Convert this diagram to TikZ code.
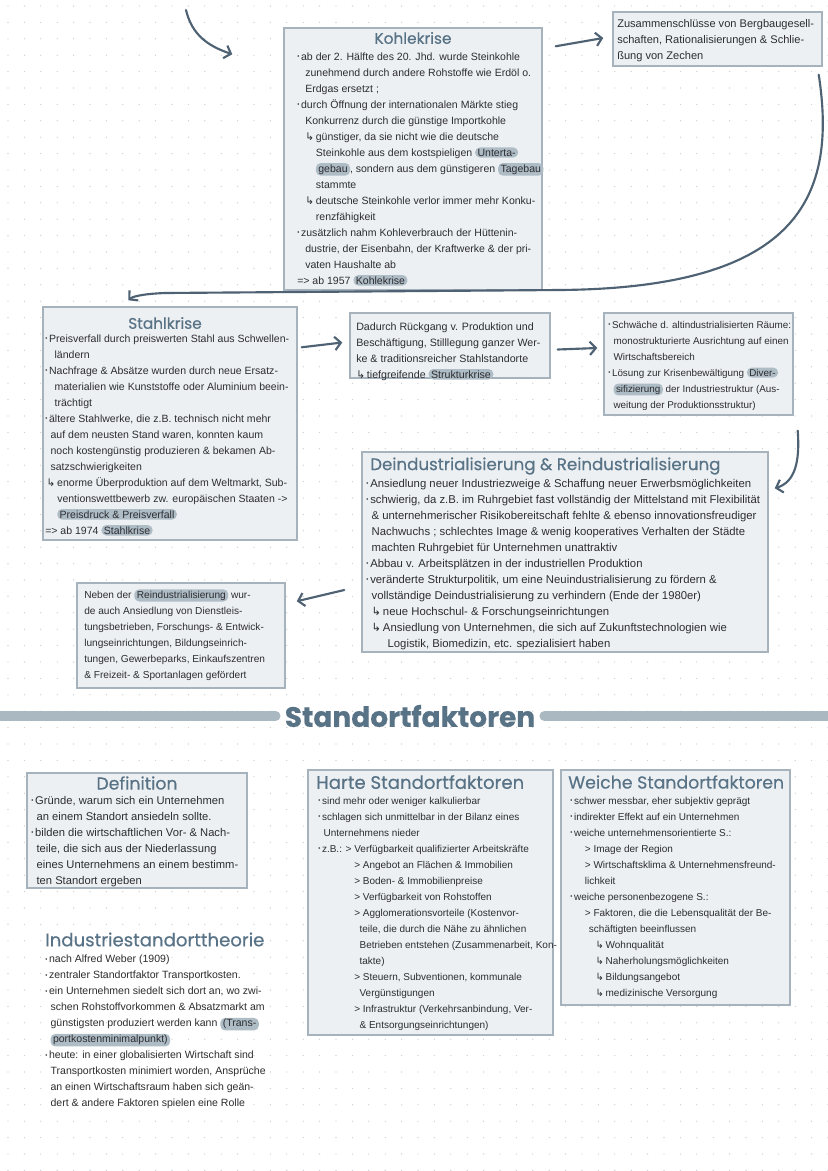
\documentclass[tikz,border=0pt]{standalone}
\usepackage{fontspec}
\setmainfont{Liberation Sans}
\newfontfamily\headfont[FakeBold=0.4]{Poppins}
\newfontfamily\symfont{DejaVu Sans}
\usetikzlibrary{arrows.meta,fit}
\definecolor{ink}{RGB}{45,45,48}
\definecolor{slate}{RGB}{88,114,134}
\definecolor{arrc}{RGB}{78,98,115}
\definecolor{boxfill}{RGB}{237,240,242}
\definecolor{boxline}{RGB}{166,178,188}
\definecolor{hlc}{RGB}{174,188,198}
\definecolor{barc}{RGB}{170,184,194}
\definecolor{dotc}{RGB}{200,204,208}
\tikzset{
  box/.style={rectangle,fill=boxfill,draw=boxline,line width=1.1pt,inner sep=0pt},
  head/.style={font=\headfont\fontsize{#1}{14}\selectfont,text=slate,inner sep=0pt},
  head/.default=11.5,
  body/.style={anchor=north west,align=left,inner sep=0pt,text=ink,
    font=\fontsize{#1}{12}\selectfont},
  body/.default=7.5,
  hlbox/.style={fill=hlc,rounded corners=3.5pt,inner xsep=1.8pt,inner ysep=1pt,
    anchor=base,text=ink},
  arr/.style={-{Straight Barb[length=4.5pt,width=10pt]},line width=1.6pt,arrc,line cap=round},
  bar/.style={line width=7.5pt,barc,line cap=round}
}
\newcommand{\hl}[1]{\tikz[baseline=(hl.base)]\node[hlbox](hl){#1};}
\newcommand{\bl}{\raisebox{1.4pt}{\fontsize{4.5}{5}\selectfont•}\,}
\newcommand{\hook}{{\symfont ↳}\,}

\begin{document}
\begin{tikzpicture}[x=0.75pt,y=-0.75pt]
\useasboundingbox (0,0) rectangle (828,1171);
\fill[white] (0,0) rectangle (828,1171);
% dotted paper
\foreach \i in {0,...,50} {
  \foreach \j in {0,...,71} {
    \fill[dotc] (8+16.4*\i,6+16.4*\j) circle (0.5pt);
  }
}
% ---------- Kohlekrise ----------
\node[box,fit={(284,28) (542,290)}] (kohle) {};
\node[head] (kohleH) at (413,38) {Kohlekrise};
\node[body=7.9] (kohleT) at (297,48.6) {\strut\bl ab der 2. Hälfte des 20. Jhd. wurde Steinkohle\\
\hspace*{6pt}zunehmend durch andere Rohstoffe wie Erdöl o.\\
\hspace*{6pt}Erdgas ersetzt ;\\
\bl durch Öffnung der internationalen Märkte stieg\\
\hspace*{6pt}Konkurrenz durch die günstige Importkohle\\
\hspace*{6pt}\hook günstiger, da sie nicht wie die deutsche\\
\hspace*{14pt}Steinkohle aus dem kostspieligen \hl{Unterta-}\\
\hspace*{14pt}\hl{gebau}, sondern aus dem günstigeren \hl{Tagebau}\\
\hspace*{14pt}stammte\\
\hspace*{6pt}\hook deutsche Steinkohle verlor immer mehr Konku-\\
\hspace*{14pt}renzfähigkeit\\
\bl zusätzlich nahm Kohleverbrauch der Hüttenin-\\
\hspace*{6pt}dustrie, der Eisenbahn, der Kraftwerke \& der pri-\\
\hspace*{6pt}vaten Haushalte ab\\
=> ab 1957 \hl{Kohlekrise}};
% ---------- Zechen ----------
\node[box,fit={(613,12) (822,66)}] (zus) {};
\node[body=8.3] (zusT) at (617,15.6) {\strut Zusammenschlüsse von Bergbaugesell-\\
schaften, Rationalisierungen \& Schlie-\\
ßung von Zechen};
% ---------- Stahlkrise ----------
\node[box,fit={(43,307) (297,540)}] (stahl) {};
\node[head] (stahlH) at (165,323) {Stahlkrise};
\node[body=7.9] (stahlT) at (45,330.6) {\strut\bl Preisverfall durch preiswerten Stahl aus Schwellen-\\
\hspace*{7pt}ländern\\
\bl Nachfrage \& Absätze wurden durch neue Ersatz-\\
\hspace*{7pt}materialien wie Kunststoffe oder Aluminium beein-\\
\hspace*{7pt}trächtigt\\
\bl ältere Stahlwerke, die z.B. technisch nicht mehr\\
\hspace*{4pt}auf dem neusten Stand waren, konnten kaum\\
\hspace*{4pt}noch kostengünstig produzieren \& bekamen Ab-\\
\hspace*{4pt}satzschwierigkeiten\\
\hspace*{1pt}\hook enorme Überproduktion auf dem Weltmarkt, Sub-\\
\hspace*{9pt}ventionswettbewerb zw. europäischen Staaten ->\\
\hspace*{9pt}\hl{Preisdruck \& Preisverfall}\\
=> ab 1974 \hl{Stahlkrise}};
% ---------- Strukturkrise ----------
\node[box,fit={(350,313) (550,378)}] (dad) {};
\node[body=8] (dadT) at (356,318.6) {\strut Dadurch Rückgang v. Produktion und\\
Beschäftigung, Stilllegung ganzer Wer-\\
ke \& traditionsreicher Stahlstandorte\\
\hook tiefgreifende \hl{Strukturkrise}};
% ---------- Diversifizierung ----------
\node[box,fit={(604,313) (793,415)}] (div) {};
\node[body=7.4] (divT) at (608,316.6) {\strut\bl Schwäche d. altindustrialisierten Räume:\\
\hspace*{4pt}monostrukturierte Ausrichtung auf einen\\
\hspace*{4pt}Wirtschaftsbereich\\
\bl Lösung zur Krisenbewältigung \hl{Diver-}\\
\hspace*{4pt}\hl{sifizierung} der Industriestruktur (Aus-\\
\hspace*{4pt}weitung der Produktionsstruktur)};
% ---------- De-/Reindustrialisierung ----------
\node[box,fit={(362,452) (768,652)}] (dein) {};
\node[head=12.5,anchor=west] (deinH) at (370,466) {Deindustrialisierung \& Reindustrialisierung};
\node[body=8.5] (deinT) at (366,475.6) {\strut\bl Ansiedlung neuer Industriezweige \& Schaffung neuer Erwerbsmöglichkeiten\\
\bl schwierig, da z.B. im Ruhrgebiet fast vollständig der Mittelstand mit Flexibilität\\
\hspace*{4pt}\& unternehmerischer Risikobereitschaft fehlte \& ebenso innovationsfreudiger\\
\hspace*{4pt}Nachwuchs ; schlechtes Image \& wenig kooperatives Verhalten der Städte\\
\hspace*{4pt}machten Ruhrgebiet für Unternehmen unattraktiv\\
\bl Abbau v. Arbeitsplätzen in der industriellen Produktion\\
\bl veränderte Strukturpolitik, um eine Neuindustrialisierung zu fördern \&\\
\hspace*{4pt}vollständige Deindustrialisierung zu verhindern (Ende der 1980er)\\
\hspace*{4pt}\hook neue Hochschul- \& Forschungseinrichtungen\\
\hspace*{4pt}\hook Ansiedlung von Unternehmen, die sich auf Zukunftstechnologien wie\\
\hspace*{16pt}Logistik, Biomedizin, etc. spezialisiert haben};
% ---------- Reindustrialisierung ----------
\node[box,fit={(77,583) (285,688)}] (neben) {};
\node[body=7.6] (nebenT) at (84,586.6) {\strut Neben der \hl{Reindustrialisierung} wur-\\
de auch Ansiedlung von Dienstleis-\\
tungsbetrieben, Forschungs- \& Entwick-\\
lungseinrichtungen, Bildungseinrich-\\
tungen, Gewerbeparks, Einkaufszentren\\
\& Freizeit- \& Sportanlagen gefördert};
% ---------- arrows ----------
\coordinate (prev) at (186,10);
\draw[arr] (prev) .. controls (192,35) and (208,46) .. ([shift={(-51,27)}]kohle.north west);
\draw[arr] ([shift={(13,19)}]kohle.north east) -- ([shift={(-9,-1)}]zus.west);
\draw[arr] ([shift={(-4,8)}]zus.south east) .. controls (838,200) and (795,288) .. (560,290)
  -- (165,293) .. controls (140,294) and (132,297) .. ([shift={(86,-6)}]stahl.north west);
\draw[arr] ([shift={(4,41)}]stahl.north east) -- ([shift={(-7,-3)}]dad.west);
\draw[arr] ([shift={(7,4)}]dad.east) -- ([shift={(-6,-16)}]div.west);
\draw[arr] ([shift={(4,15)}]div.south east) .. controls (800,462) and (795,482) .. ([shift={(6,37)}]dein.north east);
\draw[arr] ([shift={(-17,38)}]dein.west) -- ([shift={(11,19)}]neben.north east);
% ---------- Standortfaktoren ----------
\node[head,font=\headfont\bfseries\fontsize{21}{22}\selectfont] (stoH) at (410,716) {Standortfaktoren};
\draw[bar] (-10,716) -- ([shift={(-9,0)}]stoH.west);
\draw[bar] ([shift={(9,0)}]stoH.east) -- (840,716);
% ---------- Definition ----------
\node[box,fit={(27,773) (247,888)}] (defi) {};
\node[head=13] (defiH) at (137,783) {Definition};
\node[body=8.4] (defiT) at (31,792.6) {\strut\bl Gründe, warum sich ein Unternehmen\\
\hspace*{4pt}an einem Standort ansiedeln sollte.\\
\bl bilden die wirtschaftlichen Vor- \& Nach-\\
\hspace*{4pt}teile, die sich aus der Niederlassung\\
\hspace*{4pt}eines Unternehmens an einem bestimm-\\
\hspace*{4pt}ten Standort ergeben};
% ---------- Industriestandorttheorie ----------
\node[head=13.6,anchor=west] (webH) at (45,939.5) {Industriestandorttheorie};
\node[body=7.9] (webT) at (45,955) {\bl nach Alfred Weber (1909)\\
\bl zentraler Standortfaktor Transportkosten.\\
\bl ein Unternehmen siedelt sich dort an, wo zwi-\\
\hspace*{4pt}schen Rohstoffvorkommen \& Absatzmarkt am\\
\hspace*{4pt}günstigsten produziert werden kann \hl{(Trans-}\\
\hspace*{4pt}\hl{portkostenminimalpunkt)}\\
\bl heute: in einer globalisierten Wirtschaft sind\\
\hspace*{4pt}Transportkosten minimiert worden, Ansprüche\\
\hspace*{4pt}an einen Wirtschaftsraum haben sich geän-\\
\hspace*{4pt}dert \& andere Faktoren spielen eine Rolle};
% ---------- harte Faktoren ----------
\node[box,fit={(308,770) (553,1035)}] (hart) {};
\node[head=13.6,anchor=west] (hartH) at (316,782) {Harte Standortfaktoren};
\node[body=7.5] (hartT) at (318,792.6) {\strut\bl sind mehr oder weniger kalkulierbar\\
\bl schlagen sich unmittelbar in der Bilanz eines\\
\hspace*{4pt}Unternehmens nieder\\
\bl z.B.: > Verfügbarkeit qualifizierter Arbeitskräfte\\
\hspace*{27pt}> Angebot an Flächen \& Immobilien\\
\hspace*{27pt}> Boden- \& Immobilienpreise\\
\hspace*{27pt}> Verfügbarkeit von Rohstoffen\\
\hspace*{27pt}> Agglomerationsvorteile (Kostenvor-\\
\hspace*{31pt}teile, die durch die Nähe zu ähnlichen\\
\hspace*{31pt}Betrieben entstehen (Zusammenarbeit, Kon-\\
\hspace*{31pt}takte)\\
\hspace*{27pt}> Steuern, Subventionen, kommunale\\
\hspace*{31pt}Vergünstigungen\\
\hspace*{27pt}> Infrastruktur (Verkehrsanbindung, Ver-\\
\hspace*{31pt}\& Entsorgungseinrichtungen)};
% ---------- weiche Faktoren ----------
\node[box,fit={(561,770) (790,1005)}] (weich) {};
\node[head=13,anchor=west] (weichH) at (568,782) {Weiche Standortfaktoren};
\node[body=7.5] (weichT) at (570,792.6) {\strut\bl schwer messbar, eher subjektiv geprägt\\
\bl indirekter Effekt auf ein Unternehmen\\
\bl weiche unternehmensorientierte S.:\\
\hspace*{11pt}> Image der Region\\
\hspace*{11pt}> Wirtschaftsklima \& Unternehmensfreund-\\
\hspace*{11pt}lichkeit\\
\bl weiche personenbezogene S.:\\
\hspace*{11pt}> Faktoren, die die Lebensqualität der Be-\\
\hspace*{14pt}schäftigten beeinflussen\\
\hspace*{19pt}\hook Wohnqualität\\
\hspace*{19pt}\hook Naherholungsmöglichkeiten\\
\hspace*{19pt}\hook Bildungsangebot\\
\hspace*{19pt}\hook medizinische Versorgung};
\end{tikzpicture}
\end{document}
